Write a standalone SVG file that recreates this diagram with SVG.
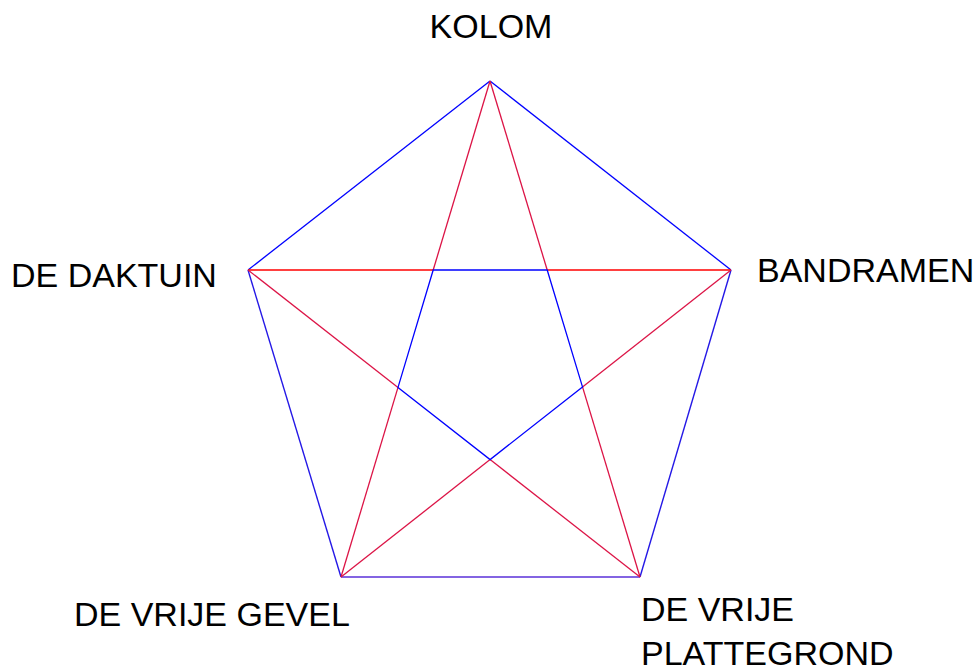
<svg xmlns="http://www.w3.org/2000/svg" width="977" height="671" viewBox="0 0 977 671">
<style>
.lbl{font-family:"Liberation Sans",Arial,sans-serif;font-size:34px;fill:#000}
.b{stroke:#0000ff;stroke-width:1.3;fill:none}
.bs{stroke:#2418e6;stroke-width:1.4;fill:none}
.bb{stroke:#5a30d8;stroke-width:1.5;fill:none}
.r{stroke:#ff0000;stroke-width:1.3;fill:none}
.c{stroke:#dc1446;stroke-width:1.3;fill:none}
</style>
<rect width="977" height="671" fill="#fff"/>
<g id="connectors">
<line class="b" x1="490" y1="81" x2="248" y2="270"/>
<line class="b" x1="490" y1="81" x2="731" y2="270"/>
<line class="bs" x1="248" y1="270" x2="341" y2="577"/>
<line class="bs" x1="731" y1="270" x2="640" y2="577"/>
<line class="bb" x1="341" y1="577" x2="640" y2="577"/>
<line class="r" x1="248" y1="270" x2="433.2" y2="270"/>
<line class="r" x1="547.2" y1="270" x2="731" y2="270"/>
<line class="c" x1="490" y1="81" x2="433.2" y2="270"/>
<line class="c" x1="398" y1="387.4" x2="341" y2="577"/>
<line class="c" x1="490" y1="81" x2="547.2" y2="270"/>
<line class="c" x1="582.5" y1="386.9" x2="640" y2="577"/>
<line class="c" x1="248" y1="270" x2="398" y2="387.4"/>
<line class="c" x1="490.1" y1="459.6" x2="640" y2="577"/>
<line class="c" x1="731" y1="270" x2="582.5" y2="386.9"/>
<line class="c" x1="490.1" y1="459.6" x2="341" y2="577"/>
<polygon class="b" points="433.2,270 547.2,270 582.5,386.9 490.1,459.6 398,387.4"/>
</g>
<g id="node-kolom"><text class="lbl" x="491" y="38" text-anchor="middle">KOLOM</text></g>
<g id="node-daktuin"><text class="lbl" x="11" y="287">DE DAKTUIN</text></g>
<g id="node-bandramen"><text class="lbl" x="757" y="282">BANDRAMEN</text></g>
<g id="node-gevel"><text class="lbl" x="74" y="626">DE VRIJE GEVEL</text></g>
<g id="node-plattegrond"><text class="lbl" x="641" y="621">DE VRIJE</text><text class="lbl" x="641" y="665">PLATTEGROND</text></g>
</svg>
